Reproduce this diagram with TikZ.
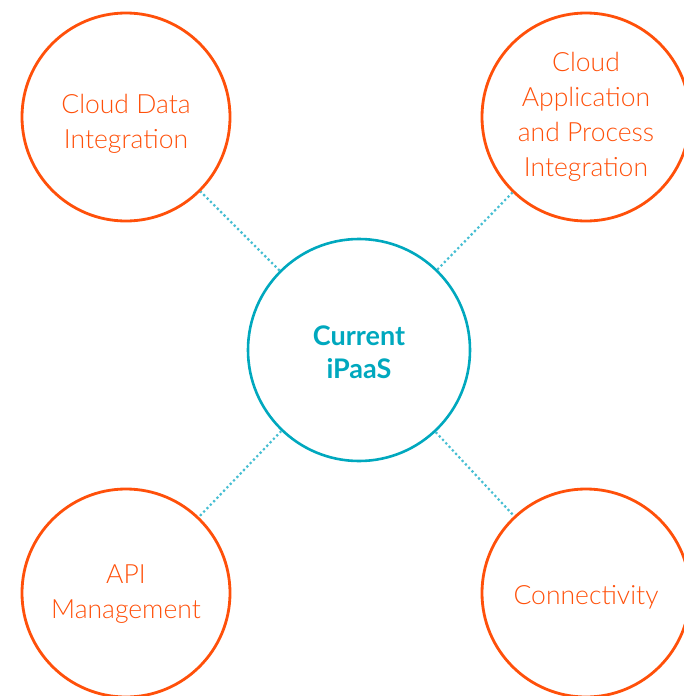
\documentclass[tikz,border=0pt]{standalone}
\usepackage{fontspec}
\setmainfont{Lato Light}
\newfontfamily\boldfont{Lato Bold}
\definecolor{hubOrange}{RGB}{255,80,10}
\definecolor{hubCyan}{RGB}{0,168,190}
\definecolor{linkCyan}{RGB}{70,190,210}
\begin{document}
\begin{tikzpicture}[x=1pt,y=-1pt,
  topic/.style={circle,draw=hubOrange,line width=2.8pt,minimum size=208pt,inner sep=0pt},
  topictext/.style={text=hubOrange,align=center,inner sep=0pt,font=\fontsize{26.5}{35}\selectfont},
  hub/.style={circle,draw=hubCyan,line width=2.6pt,minimum size=222pt,inner sep=0pt},
  hubtext/.style={text=hubCyan,align=center,inner sep=0pt,font=\fontsize{27}{33}\boldfont},
  link/.style={draw=linkCyan,line width=2.2pt,dash pattern=on 2.2pt off 2.6pt}]
  \useasboundingbox (0,0) rectangle (684,696);
  \begin{scope}
  \clip (0,0) rectangle (684,696);
  % circles
  \node[hub] (core) at (359,350) {};
  \node[topic] (cdi) at (126,117) {};
  \node[topic] (capi) at (586,117) {};
  \node[topic] (api) at (126,593) {};
  \node[topic] (conn) at (586,593) {};
  % labels
  \node[hubtext] (coreL) at ([yshift=-2pt]core.center) {Current\\iPaaS};
  \node[topictext] (cdiL) at ([yshift=-7pt]cdi.center) {Cloud Data\\Integration};
  \node[topictext] (capiL) at ([yshift=0pt]capi.center) {Cloud\\Application\\and Process\\Integration};
  \node[topictext] (apiL) at ([yshift=-1pt]api.center) {API\\Management};
  \node[topictext] (connL) at ([yshift=-4pt]conn.center) {Connectivity};
  % dotted spokes
  \draw[link] (core) -- (cdi);
  \draw[link] (core) -- (capi);
  \draw[link] (core) -- (api);
  \draw[link] (core) -- (conn);
  \end{scope}
\end{tikzpicture}
\end{document}
